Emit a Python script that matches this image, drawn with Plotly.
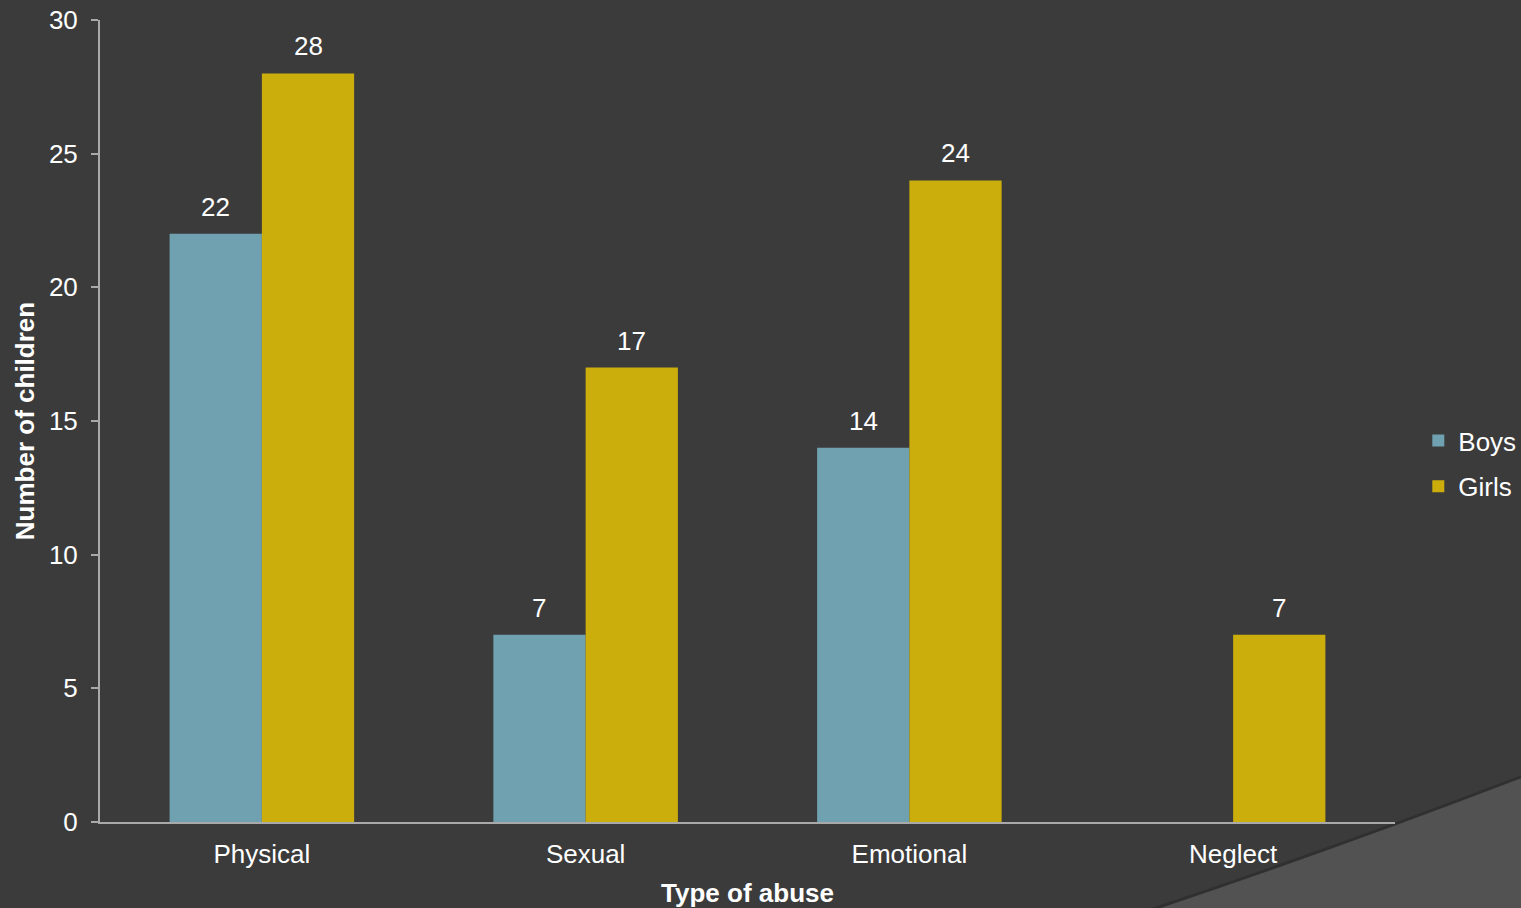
import plotly.graph_objects as go

# Data
categories = ["Physical", "Sexual", "Emotional", "Neglect"]
boys = [22, 7, 14, 0]
girls = [28, 17, 24, 7]
y_ticks = [0, 5, 10, 15, 20, 25, 30]

BG = "#3b3b3b"
BOYS_COLOR = "#6fa1b0"
GIRLS_COLOR = "#cbae0b"
AXIS_COLOR = "#a9a9a9"
FONT = "Liberation Sans, Arial, sans-serif"
FS = 26

W, H = 1521, 908
L, R, T, B = 100, 126, 20, 86
PW, PH = W - L - R, H - T - B


def px(x, y):
    """Convert page pixel coordinates to paper coordinates."""
    return (x - L) / PW, (H - B - y) / PH


fig = go.Figure()
fig.add_trace(go.Bar(name="Boys", x=categories, y=boys, marker_color=BOYS_COLOR,
                     marker_line_width=0, legendgroup="boys"))
fig.add_trace(go.Bar(name="Girls", x=categories, y=girls, marker_color=GIRLS_COLOR,
                     marker_line_width=0, legendgroup="girls"))

# Value labels above each bar
annotations = []
for series, shift in ((boys, -46.25), (girls, 46.25)):
    for cat, v in zip(categories, series):
        if v:
            annotations.append(dict(x=cat, y=v, xref="x", yref="y", text=str(v),
                                    showarrow=False, xshift=shift, yshift=27,
                                    yanchor="middle",
                                    font=dict(family=FONT, size=FS, color="white")))

# Decorative lighter wedge in the lower-right corner
x0, y0 = px(1150, 910)
xc, yc = px(1330, 850)
x1, y1 = px(1523, 776)
x2, y2 = px(1523, 910)
wedge = dict(type="path", xref="paper", yref="paper", layer="below",
             path=f"M {x0},{y0} Q {xc},{yc} {x1},{y1} L {x2},{y2} Z",
             fillcolor="#525252", line=dict(width=0))
edge = dict(type="path", xref="paper", yref="paper", layer="below",
            path=f"M {x0},{y0} Q {xc},{yc} {x1},{y1}",
            line=dict(color="#303030", width=3))

fig.update_layout(
    width=W, height=H,
    margin=dict(l=L, r=R, t=T, b=B, pad=0, autoexpand=False),
    paper_bgcolor=BG, plot_bgcolor="rgba(0,0,0,0)",
    barmode="group", bargap=0.43, bargroupgap=0,
    font=dict(family=FONT, size=FS, color="white"),
    showlegend=True,
    legend=dict(x=1.018, y=0.447, xanchor="left", yanchor="middle",
                bgcolor="rgba(0,0,0,0)", font=dict(size=FS, color="white"),
                itemwidth=30, tracegroupgap=9),
    annotations=annotations,
    shapes=[wedge, edge],
    xaxis=dict(
        showline=True, linecolor=AXIS_COLOR, linewidth=2,
        ticks="", showgrid=False, zeroline=False,
        tickfont=dict(size=FS, color="white"), ticklabelstandoff=8,
        title=dict(text="<b>Type of abuse</b>", standoff=16,
                   font=dict(size=FS, color="white")),
    ),
    yaxis=dict(
        range=[0, 30], tickvals=y_ticks, showline=True, linecolor=AXIS_COLOR,
        linewidth=2, ticks="outside", ticklen=7, tickwidth=2, tickcolor=AXIS_COLOR,
        showgrid=False, zeroline=False, ticklabelstandoff=8,
        tickfont=dict(size=FS, color="white"),
        title=dict(text="<b>Number of children</b>", standoff=7,
                   font=dict(size=FS, color="white")),
    ),
)

fig.write_html("out.html")
